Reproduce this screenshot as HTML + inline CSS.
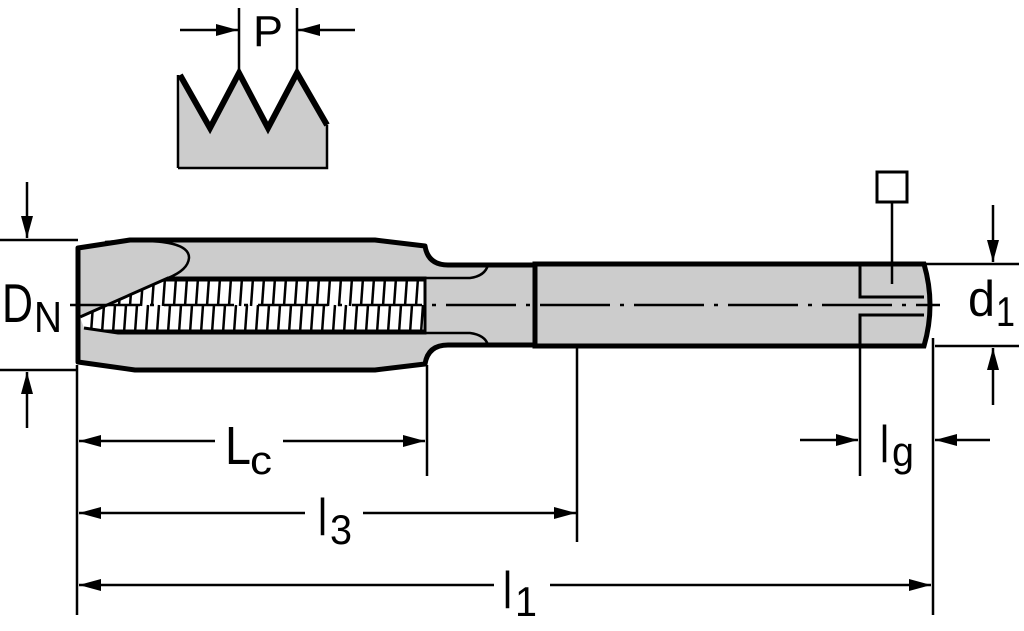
<!DOCTYPE html>
<html><head><meta charset="utf-8"><style>
html,body{margin:0;padding:0;background:#fff;}
svg{display:block;}
text{font-family:"Liberation Sans","DejaVu Sans",sans-serif;fill:#000;}
</style></head><body>
<svg width="1024" height="631" viewBox="0 0 1024 631" xmlns="http://www.w3.org/2000/svg">
<defs>
<marker id="a" viewBox="0 0 22 12" refX="22" refY="6" markerWidth="22" markerHeight="12" markerUnits="userSpaceOnUse" orient="auto">
<path d="M0,0 L22,6 L0,12 Z" fill="#000"/></marker>
<clipPath id="th"><path d="M80,317 L168,278 L425,278 L425,333 L118,333 L84,328 Z"/></clipPath>
</defs>

<!-- thread profile -->
<path d="M180,75 L210,128 L239,73 L268,128 L297,73 L327,125 L327,168 L178,168 Z" fill="#cccccc" stroke="none"/>
<path d="M178,168 L327,168 L327,125" fill="none" stroke="#000" stroke-width="2.5"/>
<path d="M178,75 L178,168" fill="none" stroke="#000" stroke-width="2.5"/>
<path d="M180,75 L210,128 L239,73 L268,128 L297,73 L327,125" fill="none" stroke="#000" stroke-width="6" stroke-linejoin="miter"/>
<line x1="239" y1="8" x2="239" y2="73" stroke="#000" stroke-width="2.5"/>
<line x1="297" y1="8" x2="297" y2="73" stroke="#000" stroke-width="2.5"/>
<line x1="180" y1="30" x2="238" y2="30" stroke="#000" stroke-width="2.5" marker-end="url(#a)"/>
<line x1="355" y1="30" x2="298" y2="30" stroke="#000" stroke-width="2.5" marker-end="url(#a)"/>
<text x="253" y="46" font-size="44" textLength="30" lengthAdjust="spacingAndGlyphs">P</text>

<!-- body -->
<path d="M78,248 L130,240 L375,240 L425,246 Q428,265 448,265 L535,265 L535,345 L448,345 Q428,345 425,364 L375,370 L135,370 L78,362 Z" fill="#cccccc" stroke="#000" stroke-width="5" stroke-linejoin="round"/>
<path d="M535,264 L924,264 Q936,305 924,346 L535,346 Z" fill="#cccccc" stroke="#000" stroke-width="5"/>
<line x1="535" y1="264" x2="535" y2="346" stroke="#000" stroke-width="5"/>
<path d="M425,278 L470,278 Q485,276 488,265" fill="none" stroke="#000" stroke-width="2.5"/>
<path d="M425,333 L470,333 Q485,335 488,345" fill="none" stroke="#000" stroke-width="2.5"/>
<path d="M105,242 Q190,236 189,258 Q188,270 168,278" fill="none" stroke="#000" stroke-width="2.5"/>
<!-- thread hatch -->
<g clip-path="url(#th)" stroke="#000" stroke-width="2.5">
<rect x="80" y="278" width="345" height="55" fill="#fff" stroke="none"/>
<g id="hl">
<line x1="88" y1="278" x2="86" y2="306"/><line x1="99" y1="278" x2="97" y2="306"/><line x1="110" y1="278" x2="108" y2="306"/><line x1="121" y1="278" x2="119" y2="306"/><line x1="132" y1="278" x2="130" y2="306"/><line x1="143" y1="278" x2="141" y2="306"/><line x1="154" y1="278" x2="152" y2="306"/><line x1="165" y1="278" x2="163" y2="306"/><line x1="176" y1="278" x2="174" y2="306"/><line x1="187" y1="278" x2="185" y2="306"/><line x1="198" y1="278" x2="196" y2="306"/><line x1="209" y1="278" x2="207" y2="306"/><line x1="220" y1="278" x2="218" y2="306"/><line x1="231" y1="278" x2="229" y2="306"/><line x1="242" y1="278" x2="240" y2="306"/><line x1="253" y1="278" x2="251" y2="306"/><line x1="264" y1="278" x2="262" y2="306"/><line x1="275" y1="278" x2="273" y2="306"/><line x1="286" y1="278" x2="284" y2="306"/><line x1="297" y1="278" x2="295" y2="306"/><line x1="308" y1="278" x2="306" y2="306"/><line x1="319" y1="278" x2="317" y2="306"/><line x1="330" y1="278" x2="328" y2="306"/><line x1="341" y1="278" x2="339" y2="306"/><line x1="352" y1="278" x2="350" y2="306"/><line x1="363" y1="278" x2="361" y2="306"/><line x1="374" y1="278" x2="372" y2="306"/><line x1="385" y1="278" x2="383" y2="306"/><line x1="396" y1="278" x2="394" y2="306"/><line x1="407" y1="278" x2="405" y2="306"/><line x1="418" y1="278" x2="416" y2="306"/>
</g>
<use href="#hl" transform="translate(5,27)"/>
<line x1="80" y1="280" x2="425" y2="280" stroke-width="3"/>
<line x1="80" y1="331" x2="425" y2="331" stroke-width="3"/>
</g>
<path d="M80,317 L168,278 L425,278 L425,333 L118,333 L84,328" fill="none" stroke="#000" stroke-width="3"/>
<line x1="70" y1="305" x2="940" y2="305" stroke="#000" stroke-width="2.5" stroke-dasharray="70,10,4,10"/>
<path d="M924,297 L860,297 L860,264 M924,315 L860,315 L860,346" fill="none" stroke="#000" stroke-width="3"/>
<rect x="877" y="172" width="30" height="30" fill="none" stroke="#000" stroke-width="3"/>
<line x1="892" y1="202" x2="892" y2="284" stroke="#000" stroke-width="2.5"/>

<!-- DN -->
<line x1="0" y1="240" x2="78" y2="240" stroke="#000" stroke-width="2.5"/>
<line x1="0" y1="370" x2="78" y2="370" stroke="#000" stroke-width="2.5"/>
<line x1="27" y1="182" x2="27" y2="238" stroke="#000" stroke-width="2.5" marker-end="url(#a)"/>
<line x1="27" y1="428" x2="27" y2="372" stroke="#000" stroke-width="2.5" marker-end="url(#a)"/>
<text x="2" y="322" font-size="55" textLength="31" lengthAdjust="spacingAndGlyphs">D</text>
<text x="34" y="332" font-size="44" textLength="28" lengthAdjust="spacingAndGlyphs">N</text>

<!-- d1 -->
<line x1="925" y1="264" x2="1019" y2="264" stroke="#000" stroke-width="2.5"/>
<line x1="935" y1="346" x2="1019" y2="346" stroke="#000" stroke-width="2.5"/>
<line x1="993" y1="205" x2="993" y2="262" stroke="#000" stroke-width="2.5" marker-end="url(#a)"/>
<line x1="993" y1="405" x2="993" y2="348" stroke="#000" stroke-width="2.5" marker-end="url(#a)"/>
<text x="968" y="316" font-size="50" textLength="27" lengthAdjust="spacingAndGlyphs">d</text>
<text x="996" y="326" font-size="42" textLength="19" lengthAdjust="spacingAndGlyphs">1</text>

<line x1="77" y1="365" x2="77" y2="615" stroke="#000" stroke-width="2.5"/>
<line x1="427" y1="365" x2="427" y2="476" stroke="#000" stroke-width="2.5"/>
<line x1="577" y1="348" x2="577" y2="542" stroke="#000" stroke-width="2.5"/>
<line x1="860" y1="346" x2="860" y2="476" stroke="#000" stroke-width="2.5"/>
<line x1="933" y1="338" x2="933" y2="615" stroke="#000" stroke-width="2.5"/>

<line x1="215" y1="441" x2="79" y2="441" stroke="#000" stroke-width="2.5" marker-end="url(#a)"/>
<line x1="283" y1="441" x2="425" y2="441" stroke="#000" stroke-width="2.5" marker-end="url(#a)"/>
<text x="225" y="464" font-size="54" textLength="26" lengthAdjust="spacingAndGlyphs">L</text>
<text x="250" y="474" font-size="40" textLength="22" lengthAdjust="spacingAndGlyphs">c</text>
<line x1="305" y1="513" x2="79" y2="513" stroke="#000" stroke-width="2.5" marker-end="url(#a)"/>
<line x1="363" y1="513" x2="576" y2="513" stroke="#000" stroke-width="2.5" marker-end="url(#a)"/>
<text x="318" y="535" font-size="52" textLength="9" lengthAdjust="spacingAndGlyphs">l</text>
<text x="330" y="544" font-size="42" textLength="22" lengthAdjust="spacingAndGlyphs">3</text>
<line x1="494" y1="585" x2="79" y2="585" stroke="#000" stroke-width="2.5" marker-end="url(#a)"/>
<line x1="550" y1="585" x2="931" y2="585" stroke="#000" stroke-width="2.5" marker-end="url(#a)"/>
<text x="503" y="608" font-size="52" textLength="9" lengthAdjust="spacingAndGlyphs">l</text>
<text x="515" y="616" font-size="42" textLength="22" lengthAdjust="spacingAndGlyphs">1</text>
<line x1="800" y1="440" x2="858" y2="440" stroke="#000" stroke-width="2.5" marker-end="url(#a)"/>
<line x1="990" y1="440" x2="935" y2="440" stroke="#000" stroke-width="2.5" marker-end="url(#a)"/>
<text x="880" y="462" font-size="52" textLength="9" lengthAdjust="spacingAndGlyphs">l</text>
<text x="892" y="466" font-size="42" textLength="22" lengthAdjust="spacingAndGlyphs">g</text>
</svg>
</body></html>
